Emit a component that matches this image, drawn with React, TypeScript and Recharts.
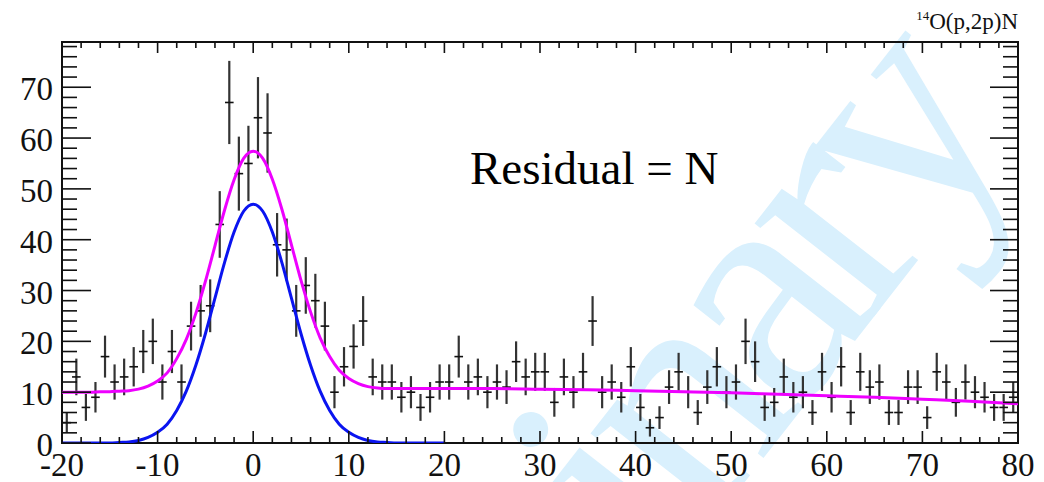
import { ComposedChart, Scatter, Line, XAxis, YAxis, ErrorBar, ReferenceArea } from "recharts";

// histogram: 1-unit bins from -20 to 80
const binStart = -20;
const binWidth = 1;
const counts = [
  4, 13, 7, 9, 17, 12, 13, 15, 18, 20,
  12, 18, 12, 23, 26, 27, 43, 67, 53, 55,
  64, 61, 39, 38, 26, 31, 28, 23, 10, 15,
  19, 24, 13, 12, 12, 9, 10, 7, 9, 12,
  12, 17, 12, 13, 10, 12, 11, 16, 13, 14,
  14, 8, 13, 10, 14, 24, 10, 12, 9, 15,
  7, 3, 5, 11, 14, 10, 6, 11, 15, 10,
  12, 20, 16, 7, 8, 13, 9, 10, 6, 14,
  9, 15, 6, 14, 11, 12, 6, 6, 11, 11,
  5, 14, 12, 8, 12, 10, 9, 7, 7, 9,
];

// total fit (magenta)
const totalX = [
  -20, -19, -18, -17, -16, -15, -14, -13, -12, -11, -10, -9, -8, -7, -6, -5, -4, -3, -2, -1, 0,
  1, 2, 3, 4, 5, 6, 7, 8, 9, 10, 11, 12, 13, 14, 15, 20, 25, 30, 35, 40, 45, 50, 55, 60, 65, 70, 75, 80,
];
const totalY = [
  10.0, 10.0, 10.0, 10.0, 10.1, 10.1, 10.2, 10.3, 10.6, 11.2, 12.2, 13.8, 16.6, 20.4, 25.5, 31.8, 38.8, 45.8, 51.8, 56.0, 57.4,
  56.0, 51.9, 46.0, 39.0, 32.0, 25.8, 20.7, 17.0, 14.3, 12.7, 11.7, 11.1, 10.8, 10.7, 10.7, 10.7, 10.7, 10.6, 10.5, 10.3, 10.1, 9.9, 9.6, 9.3, 9.0, 8.6, 8.2, 7.7,
];

// signal peak (blue), drawn -20..20
const peakX = [
  -20, -19, -18, -17, -16, -15, -14, -13, -12, -11, -10, -9, -8, -7, -6, -5, -4, -3, -2, -1, 0,
  1, 2, 3, 4, 5, 6, 7, 8, 9, 10, 11, 12, 13, 14, 15, 16, 17, 18, 19, 20,
];
const peakY = [
  0, 0, 0, 0, 0, 0, 0.1, 0.2, 0.5, 1.1, 2.1, 3.7, 6.4, 10.2, 15.3, 21.5, 28.5, 35.5, 41.5, 45.6, 47,
  45.6, 41.5, 35.5, 28.5, 21.5, 15.3, 10.2, 6.4, 3.7, 2.1, 1.1, 0.5, 0.2, 0.1, 0, 0, 0, 0, 0, 0,
];

const xMajor = [-20, -10, 0, 10, 20, 30, 40, 50, 60, 70, 80];
const yMajor = [0, 10, 20, 30, 40, 50, 60, 70];
const minorStep = 2;
const yMax = 78.9;

const serif = '"Liberation Serif", "Times New Roman", serif';
const ink = "#111";

const points = counts.map((c, i) => ({
  x: binStart + binWidth * (i + 0.5),
  y: c,
  ey: Math.sqrt(c),
  ex: binWidth * 0.45,
}));
const totalData = totalX.map((x, i) => ({ x, y: totalY[i] }));
const peakData = peakX.map((x, i) => ({ x, y: peakY[i] }));

const xTicks: number[] = [];
for (let v = xMajor[0]; v <= xMajor[xMajor.length - 1]; v += minorStep) xTicks.push(v);
const yTicks: number[] = [];
for (let v = yMajor[0]; v < yMax; v += minorStep) yTicks.push(v);

const isMajor = (v: number) => v % 10 === 0;

function BottomTick({ x, y, payload }: any) {
  const v = payload.value;
  const major = isMajor(v);
  return (
    <g>
      <line x1={x} x2={x} y1={y} y2={y - (major ? 12 : 6)} stroke={ink} strokeWidth={1.6} />
      {major && (
        <text x={x} y={y + 33} textAnchor="middle" fontSize={33} fontFamily={serif} fill={ink}>
          {v}
        </text>
      )}
    </g>
  );
}

function TopTick({ x, y, payload }: any) {
  const major = isMajor(payload.value);
  return <line x1={x} x2={x} y1={y} y2={y + (major ? 11 : 6)} stroke={ink} strokeWidth={1.6} />;
}

function LeftTick({ x, y, payload }: any) {
  const v = payload.value;
  const major = isMajor(v);
  return (
    <g>
      <line x1={x} x2={x + (major ? 29 : 15)} y1={y} y2={y} stroke={ink} strokeWidth={1.6} />
      {major && (
        <text x={x - 9} y={y + 13} textAnchor="end" fontSize={33} fontFamily={serif} fill={ink}>
          {v}
        </text>
      )}
    </g>
  );
}

function RightTick({ x, y, payload }: any) {
  const major = isMajor(payload.value);
  return <line x1={x} x2={x - (major ? 28 : 15)} y1={y} y2={y} stroke={ink} strokeWidth={1.6} />;
}

const NoDot = () => <g />;

export default function App() {
  return (
    <div style={{ position: "absolute", left: 0, top: 0, width: 1044, height: 482, background: "#fff" }}>
      {/* watermark behind everything */}
      <svg width={1044} height={482} style={{ position: "absolute", left: 0, top: 0 }}>
        <text
          transform="translate(1012,140) rotate(-52)"
          textAnchor="end"
          fontSize={330}
          letterSpacing={-22}
          fontFamily={serif}
          fill="#d9f0fd"
        >
          Preliminary
        </text>
      </svg>

      <div style={{ position: "absolute", left: 0, top: 0 }}>
        <ComposedChart width={1044} height={482} margin={{ top: 0, right: 0, bottom: 0, left: 0 }}>
          <XAxis
            xAxisId="b"
            type="number"
            dataKey="x"
            domain={[-20, 80]}
            ticks={xTicks}
            interval={0}
            height={39}
            tickSize={0}
            tickMargin={0}
            tickLine={false}
            axisLine={false}
            tick={BottomTick}
            allowDataOverflow
          />
          <XAxis
            xAxisId="t"
            orientation="top"
            type="number"
            dataKey="x"
            domain={[-20, 80]}
            ticks={xTicks}
            interval={0}
            height={42}
            tickSize={0}
            tickMargin={0}
            tickLine={false}
            axisLine={false}
            tick={TopTick}
            allowDataOverflow
          />
          <YAxis
            yAxisId="l"
            type="number"
            dataKey="y"
            domain={[0, yMax]}
            ticks={yTicks}
            interval={0}
            width={62}
            tickSize={0}
            tickMargin={0}
            tickLine={false}
            axisLine={false}
            tick={LeftTick}
            allowDataOverflow
          />
          <YAxis
            yAxisId="r"
            orientation="right"
            type="number"
            domain={[0, yMax]}
            ticks={yTicks}
            interval={0}
            width={26}
            tickSize={0}
            tickMargin={0}
            tickLine={false}
            axisLine={false}
            tick={RightTick}
            allowDataOverflow
          />

          {/* plot frame */}
          <ReferenceArea
            xAxisId="b"
            yAxisId="l"
            x1={-20}
            x2={80}
            y1={0}
            y2={yMax}
            fill="none"
            fillOpacity={0}
            stroke={ink}
            strokeWidth={2}
            strokeOpacity={1}
            ifOverflow="visible"
          />

          <Scatter xAxisId="b" yAxisId="l" data={points} shape={NoDot} isAnimationActive={false}>
            <ErrorBar dataKey="ey" direction="y" width={0} stroke="#333" strokeWidth={2.2} />
            <ErrorBar dataKey="ex" direction="x" width={0} stroke="#111" strokeWidth={1.6} />
          </Scatter>

          <Line
            xAxisId="b"
            yAxisId="l"
            data={peakData}
            dataKey="y"
            type="monotone"
            dot={false}
            stroke="#0a14f0"
            strokeWidth={3}
            isAnimationActive={false}
          />
          <Line
            xAxisId="b"
            yAxisId="l"
            data={totalData}
            dataKey="y"
            type="monotone"
            dot={false}
            stroke="#ee00ff"
            strokeWidth={3}
            isAnimationActive={false}
          />
        </ComposedChart>
      </div>

      <svg width={1044} height={482} style={{ position: "absolute", left: 0, top: 0, pointerEvents: "none" }}>
        <text x={1018} y={29} textAnchor="end" fontSize={23} fontFamily={serif} fill={ink}>
          <tspan fontSize={13} dy={-9}>14</tspan>
          <tspan dy={9}>O(p,2p)N</tspan>
        </text>
        <text x={470} y={184} fontSize={47} fontFamily={serif} fill="#000">
          Residual = N
        </text>
      </svg>
    </div>
  );
}
